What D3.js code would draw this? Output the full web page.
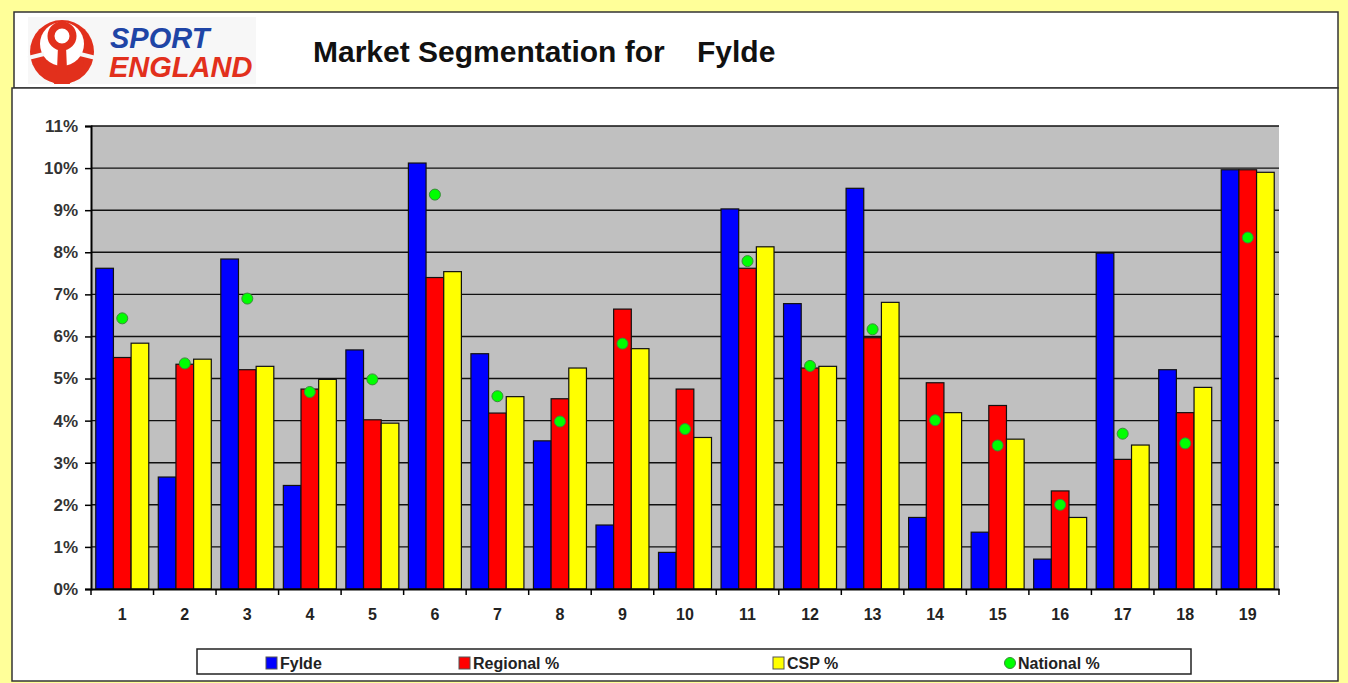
<!DOCTYPE html>
<html>
<head>
<meta charset="utf-8">
<script src="https://cdn.jsdelivr.net/npm/d3@7/dist/d3.min.js"></script>
<style>
  body { margin: 0; background: #ffff99; }
  svg { display: block; font-family: "Liberation Sans", Arial, sans-serif; }
</style>
</head>
<body>
<script>
'use strict';

// segment numbers on the x axis
var categories = ['1','2','3','4','5','6','7','8','9','10','11','12','13','14','15','16','17','18','19'];

// values in percent
var fylde    = [7.62, 2.66, 7.84, 2.46, 5.68, 10.12, 5.59, 3.52, 1.52, 0.87, 9.03, 6.78, 9.52, 1.70, 1.35, 0.71, 7.98, 5.21, 9.96];
var regional = [5.50, 5.34, 5.21, 4.75, 4.02, 7.40, 4.18, 4.52, 6.65, 4.75, 7.62, 5.25, 5.97, 4.90, 4.36, 2.33, 3.08, 4.19, 9.96];
var csp      = [5.84, 5.46, 5.29, 4.98, 3.94, 7.54, 4.57, 5.25, 5.71, 3.60, 8.13, 5.29, 6.81, 4.19, 3.56, 1.70, 3.42, 4.79, 9.90];
var national = [6.43, 5.36, 6.90, 4.68, 4.98, 9.37, 4.58, 3.98, 5.83, 3.80, 7.79, 5.30, 6.17, 4.01, 3.41, 2.00, 3.69, 3.46, 8.35];

var yTicks = [0,1,2,3,4,5,6,7,8,9,10,11];

var barSeries = [
  {name: 'Fylde',      values: fylde,    color: '#0000ff'},
  {name: 'Regional %', values: regional, color: '#ff0000'},
  {name: 'CSP %',      values: csp,      color: '#ffff00'}
];

var width = 1348,
    height = 683;

var svg = d3.select('body').append('svg')
  .attr('width', width)
  .attr('height', height);

// yellow page + white panels
svg.append('rect').attr('width', width).attr('height', height).attr('fill', '#ffff99');
svg.append('rect')
  .attr('x', 14).attr('y', 12).attr('width', 1324).attr('height', 76)
  .attr('fill', '#fff').attr('stroke', '#333').attr('stroke-width', 1.5);
svg.append('rect')
  .attr('x', 12).attr('y', 88).attr('width', 1326).attr('height', 593)
  .attr('fill', '#fff').attr('stroke', '#333').attr('stroke-width', 1.5);

// ---- logo (rough sketch of the sport england mark)
var logo = svg.append('g');
var red = '#e2301c';
logo.append('rect').attr('x', 28).attr('y', 17).attr('width', 228).attr('height', 67).attr('fill', '#f7f7f7');
logo.append('circle').attr('cx', 62).attr('cy', 52).attr('r', 32).attr('fill', red);
logo.append('circle').attr('cx', 62).attr('cy', 44).attr('r', 22).attr('fill', '#fff');
logo.append('path')
  .attr('d', 'M28,58 L44,54 M96,58 L80,54')
  .attr('stroke', '#f7f7f7').attr('stroke-width', 4);
logo.append('circle').attr('cx', 62).attr('cy', 36).attr('r', 11)
  .attr('fill', '#fff').attr('stroke', red).attr('stroke-width', 7);
logo.append('path')
  .attr('d', 'M58,46 L66,46 L67,70 L70,84 L54,84 L57,70 Z')
  .attr('fill', red);
logo.append('path')
  .attr('d', 'M40,60 Q50,62 56,72 L56,84 Q42,78 40,60 Z M84,60 Q74,62 68,72 L68,84 Q82,78 84,60 Z')
  .attr('fill', red);
logo.append('text')
  .attr('x', 110).attr('y', 48)
  .attr('font-size', 29).attr('font-weight', 'bold').attr('font-style', 'italic')
  .attr('fill', '#1f45a6')
  .text('SPORT');
logo.append('text')
  .attr('x', 109).attr('y', 77)
  .attr('font-size', 29).attr('font-weight', 'bold').attr('font-style', 'italic')
  .attr('fill', red)
  .text('ENGLAND');

// title
svg.append('text')
  .attr('x', 313).attr('y', 62)
  .attr('font-size', 30).attr('font-weight', 'bold').attr('fill', '#111')
  .text('Market Segmentation for');
svg.append('text')
  .attr('x', 697).attr('y', 62)
  .attr('font-size', 30).attr('font-weight', 'bold').attr('fill', '#111')
  .text('Fylde');

// ---- plot
var plot = {left: 91, right: 1279, top: 126, bottom: 589};

var x = d3.scaleBand()
  .domain(categories)
  .range([plot.left, plot.right]);

var bw = x.bandwidth();
var groupW = 53;
var xInner = d3.scaleBand()
  .domain(barSeries.map(function(s) { return s.name; }))
  .range([(bw - groupW) / 2, (bw + groupW) / 2]);

var y = d3.scaleLinear()
  .domain([0, 11])
  .range([plot.bottom, plot.top]);

svg.append('rect')
  .attr('x', plot.left).attr('y', plot.top)
  .attr('width', plot.right - plot.left).attr('height', plot.bottom - plot.top)
  .attr('fill', '#c0c0c0');

// gridlines
svg.append('g')
  .selectAll('line')
  .data(yTicks.slice(1))
  .enter().append('line')
  .attr('x1', plot.left).attr('x2', plot.right)
  .attr('y1', function(d) { return y(d); })
  .attr('y2', function(d) { return y(d); })
  .attr('stroke', '#111').attr('stroke-width', 1.4);

// bars
var groups = svg.append('g')
  .selectAll('g')
  .data(categories)
  .enter().append('g')
  .attr('transform', function(d) { return 'translate(' + x(d) + ',0)'; });

groups.selectAll('rect')
  .data(function(d, i) {
    return barSeries.map(function(s) { return {name: s.name, color: s.color, v: s.values[i]}; });
  })
  .enter().append('rect')
  .attr('x', function(d) { return xInner(d.name); })
  .attr('y', function(d) { return y(d.v); })
  .attr('width', xInner.bandwidth())
  .attr('height', function(d) { return y(0) - y(d.v); })
  .attr('fill', function(d) { return d.color; })
  .attr('stroke', '#111').attr('stroke-width', 1.2);

// national markers
svg.append('g')
  .selectAll('circle')
  .data(national)
  .enter().append('circle')
  .attr('cx', function(d, i) { return x(categories[i]) + bw / 2; })
  .attr('cy', function(d) { return y(d); })
  .attr('r', 5.5)
  .attr('fill', '#00ff00')
  .attr('stroke', '#3a8a3a').attr('stroke-width', 1);

// axes
var yAxis = d3.axisLeft(y)
  .tickValues(yTicks)
  .tickSize(6)
  .tickPadding(7)
  .tickFormat(function(d) { return d + '%'; });

var gy = svg.append('g')
  .attr('transform', 'translate(' + plot.left + ',0)')
  .call(yAxis);
gy.select('.domain').attr('stroke', '#000').attr('stroke-width', 2);
gy.selectAll('.tick line').attr('stroke', '#000').attr('stroke-width', 1.5);
gy.selectAll('text')
  .attr('font-family', '"Liberation Sans", Arial, sans-serif')
  .attr('font-size', 17).attr('font-weight', 'bold').attr('fill', '#333');

var xAxis = d3.axisBottom(x).tickSize(0).tickPadding(20);
var gx = svg.append('g')
  .attr('transform', 'translate(0,' + plot.bottom + ')')
  .call(xAxis);
gx.select('.domain').attr('stroke', '#000').attr('stroke-width', 2);
gx.selectAll('text')
  .attr('font-family', '"Liberation Sans", Arial, sans-serif')
  .attr('font-size', 16).attr('font-weight', 'bold').attr('fill', '#222');

// tick marks between categories
gx.append('g')
  .selectAll('line')
  .data(categories)
  .enter().append('line')
  .attr('x1', function(d) { return x(d) + bw; })
  .attr('x2', function(d) { return x(d) + bw; })
  .attr('y1', 0).attr('y2', 6)
  .attr('stroke', '#000').attr('stroke-width', 1.5);
gx.append('line')
  .attr('x1', plot.left).attr('x2', plot.left)
  .attr('y1', 0).attr('y2', 6)
  .attr('stroke', '#000').attr('stroke-width', 1.5);

// ---- legend
var legend = svg.append('g');
legend.append('rect')
  .attr('x', 197).attr('y', 649).attr('width', 994).attr('height', 25)
  .attr('fill', '#fff').attr('stroke', '#222').attr('stroke-width', 1.5);

var legendItems = [
  {name: 'Fylde',      color: '#0000ff', shape: 'rect',   x: 266},
  {name: 'Regional %', color: '#ff0000', shape: 'rect',   x: 459},
  {name: 'CSP %',      color: '#ffff00', shape: 'rect',   x: 773},
  {name: 'National %', color: '#00ff00', shape: 'circle', x: 1004}
];

var li = legend.selectAll('g.item')
  .data(legendItems)
  .enter().append('g')
  .attr('class', 'item')
  .attr('transform', function(d) { return 'translate(' + d.x + ',0)'; });

li.filter(function(d) { return d.shape === 'rect'; })
  .append('rect')
  .attr('x', 0).attr('y', 657).attr('width', 11).attr('height', 12)
  .attr('fill', function(d) { return d.color; })
  .attr('stroke', '#555').attr('stroke-width', 1);

li.filter(function(d) { return d.shape === 'circle'; })
  .append('circle')
  .attr('cx', 6).attr('cy', 663).attr('r', 5.5)
  .attr('fill', function(d) { return d.color; })
  .attr('stroke', '#3a8a3a').attr('stroke-width', 1);

li.append('text')
  .attr('x', 14)
  .attr('y', 669)
  .attr('font-size', 16).attr('font-weight', 'bold').attr('fill', '#222')
  .text(function(d) { return d.name; });
</script>
</body>
</html>
